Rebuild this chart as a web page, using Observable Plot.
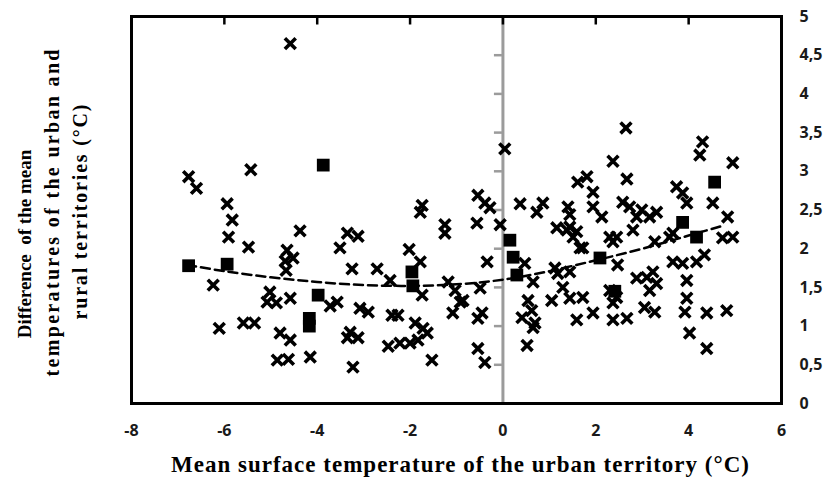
<!DOCTYPE html>
<html><head><meta charset="utf-8">
<script src="https://cdn.jsdelivr.net/npm/d3@7"></script>
<script src="https://cdn.jsdelivr.net/npm/@observablehq/plot@0.6"></script>
<style>body{margin:0;background:#fff} svg{display:block}</style>
</head><body><div id="chart"></div>
<script>
// Individual territories (crosses)
const crossX = [-6.77,-6.60,-5.43,-5.94,-5.83,-5.91,-5.48,-6.24,-6.11,-5.59,-5.35,-4.58,-4.65,-4.52,-4.69,-4.67,-4.37,-5.02,-5.08,-4.88,
 -4.58,-4.80,-4.58,-4.86,-4.62,-4.15,-3.57,-3.72,-3.35,-3.12,-3.51,-3.25,-3.35,-3.12,-3.29,-3.23,-3.08,-2.90,-2.71,-2.43,
 -2.39,-2.26,-2.47,-2.22,-2.00,-1.83,-2.02,-1.78,-1.74,-1.89,-1.72,-1.63,-1.53,-1.74,-1.78,-1.25,-1.25,-1.18,-1.03,-0.92,
 -1.08,-0.54,-0.39,-0.28,-0.56,-0.06,-0.49,-0.45,-0.54,-0.54,-0.39,-0.34,0.04,0.37,0.86,0.73,1.16,0.47,0.65,1.18,
 1.05,0.54,0.62,0.41,0.69,0.52,1.44,1.44,1.59,1.72,1.61,1.81,1.94,1.40,1.94,2.13,2.37,2.47,2.37,2.65,
 2.67,2.58,2.73,2.88,2.99,3.31,3.16,2.80,2.30,2.45,1.38,1.51,3.74,3.87,3.96,3.66,3.27,3.59,4.30,4.24,
 4.95,4.52,4.84,4.73,4.95,1.66,1.44,1.29,1.44,1.72,2.30,2.45,2.37,2.88,3.10,3.23,3.31,3.16,3.66,3.87,
 4.17,4.34,3.96,3.96,3.92,4.39,4.82,4.02,4.39,1.94,1.59,2.37,2.67,3.05,3.27,1.12,-0.86,0.65];
const crossY = [2.93,2.78,3.02,2.58,2.37,2.15,2.02,1.53,0.97,1.04,1.04,4.65,1.98,1.88,1.84,1.72,2.23,1.44,1.31,1.30,
 1.36,0.91,0.82,0.56,0.57,0.60,1.31,1.26,2.20,2.16,2.01,1.74,0.85,0.85,0.92,0.47,1.23,1.18,1.74,1.59,
 1.14,1.14,0.74,0.78,0.78,0.82,1.99,1.83,1.40,1.04,0.97,0.91,0.56,2.56,2.47,2.31,2.20,1.57,1.46,1.31,
 1.17,2.69,2.59,2.53,2.33,2.31,1.49,1.17,1.10,0.71,0.53,1.83,3.29,2.58,2.59,2.47,2.27,1.81,1.57,1.68,
 1.33,1.33,1.20,1.11,1.04,0.75,2.44,2.28,2.22,2.01,2.86,2.93,2.73,2.54,2.54,2.41,2.09,1.79,3.13,3.56,
 2.90,2.60,2.54,2.41,2.50,2.47,2.41,2.24,2.15,2.15,2.24,2.15,2.80,2.72,2.59,2.20,2.09,2.15,3.38,3.21,
 3.11,2.59,2.41,2.14,2.15,2.01,1.70,1.50,1.36,1.37,1.46,1.37,1.30,1.62,1.63,1.70,1.55,1.46,1.83,1.81,
 1.83,1.92,1.59,1.36,1.18,1.17,1.20,0.91,0.71,1.17,1.08,1.08,1.10,1.24,1.18,1.75,1.33,0.98];

// Class means (squares)
const meanX = [-6.77,-5.94,-3.87,-3.98,-4.17,-4.17,-1.96,-1.94,0.15,0.22,0.30,2.09,2.41,3.87,4.17,4.56];
const meanY = [1.78,1.80,3.08,1.40,1.10,1.00,1.70,1.52,2.11,1.89,1.66,1.88,1.45,2.34,2.15,2.86];

// Trend line (dashed)
const trendX = [-6.8,-6,-5,-4,-3,-2,-1,0,1,2,3,4,4.7];
const trendY = [1.79,1.71,1.63,1.57,1.53,1.52,1.54,1.60,1.71,1.85,2.00,2.17,2.29];

const xTickValues = [-8,-6,-4,-2,0,2,4,6];
const xTopTickValues = [-6,-4,-2,0,2,4];
const yTickValues = [0,0.5,1,1.5,2,2.5,3,3.5,4,4.5,5];
const yInnerTickValues = [0.5,1,1.5,2,2.5,3,3.5,4,4.5];
const xTitle = "Mean surface temperature of the urban territory (°C)";
const yTitleLines = ["Difference  of the mean", "temperatures of the urban and", "rural territories (°C)"];

const crosses = crossX.map((x, i) => ({x, y: crossY[i]}));
const means = meanX.map((x, i) => ({x, y: meanY[i]}));
const trend = trendX.map((x, i) => ({x, y: trendY[i]}));

const leftTick = {draw(ctx) { ctx.moveTo(-9, 0); ctx.lineTo(-1, 0); }};
const downTick = {draw(ctx) { ctx.moveTo(0, 0); ctx.lineTo(0, 8); }};

const tickFont = {fontFamily: "'Open Sans', sans-serif", fontSize: 16, fontWeight: 700, fill: "#1a1a1a"};

const chart = Plot.plot({
  width: 829, height: 479,
  marginLeft: 131, marginRight: 48, marginTop: 16, marginBottom: 76,
  style: {fontFamily: "'Open Sans', sans-serif", fontSize: "16px", fontWeight: 700, color: "#111", background: "#fff"},
  x: {domain: [-8, 6]},
  y: {domain: [0, 5]},
  marks: [
    Plot.ruleX([0], {stroke: "#9b9b9b", strokeWidth: 3}),
    Plot.dot(yInnerTickValues, {x: () => 0, y: d => d, symbol: leftTick, stroke: "#9b9b9b", strokeWidth: 2.5, fill: "none"}),
    Plot.dot(xTopTickValues, {x: d => d, y: () => 5, symbol: downTick, stroke: "#000", strokeWidth: 2.5, fill: "none"}),
    Plot.frame({stroke: "#000", strokeWidth: 3}),
    Plot.axisX(xTickValues, {anchor: "bottom", tickSize: 0, tickPadding: 21, label: null, tickFormat: d => String(d), ...tickFont}),
    Plot.axisY(yTickValues, {anchor: "right", tickSize: 0, tickPadding: 18, label: null, tickFormat: d => String(d).replace(".", ","), ...tickFont}),
    Plot.line(trend, {x: "x", y: "y", stroke: "#000", strokeWidth: 2.5, strokeDasharray: "9,5", curve: "natural"}),
    Plot.dot(crosses, {x: "x", y: "y", symbol: "times", r: 5, stroke: "#000", strokeWidth: 3.6}),
    Plot.dot(means, {x: "x", y: "y", symbol: "square", r: 7.2, fill: "#000", stroke: "none"})
  ]
});
document.getElementById("chart").appendChild(chart);

const svg = d3.select(chart);
svg.append("text")
  .attr("x", 460).attr("y", 472)
  .attr("text-anchor", "middle")
  .attr("font-family", "'Liberation Serif', 'Times New Roman', serif")
  .attr("font-weight", "bold").attr("font-size", 23)
  .attr("fill", "#000")
  .attr("textLength", 578).attr("lengthAdjust", "spacing")
  .text(xTitle);

const yLinePos = [{x: 31, y: 244, len: null, size: 19}, {x: 59, y: 213, len: 327, size: 20}, {x: 87, y: 212, len: 215, size: 20}];
yTitleLines.forEach((t, i) => {
  const el = svg.append("text")
    .attr("transform", `translate(${yLinePos[i].x},${yLinePos[i].y}) rotate(-90)`)
    .attr("text-anchor", "middle")
    .attr("font-family", "'Liberation Serif', 'Times New Roman', serif")
    .attr("font-weight", "bold").attr("font-size", yLinePos[i].size)
    .attr("fill", "#000")
    .attr("xml:space", "preserve")
    .text(t);
  if (yLinePos[i].len) el.attr("textLength", yLinePos[i].len).attr("lengthAdjust", "spacing");
});
</script>
</body></html>
